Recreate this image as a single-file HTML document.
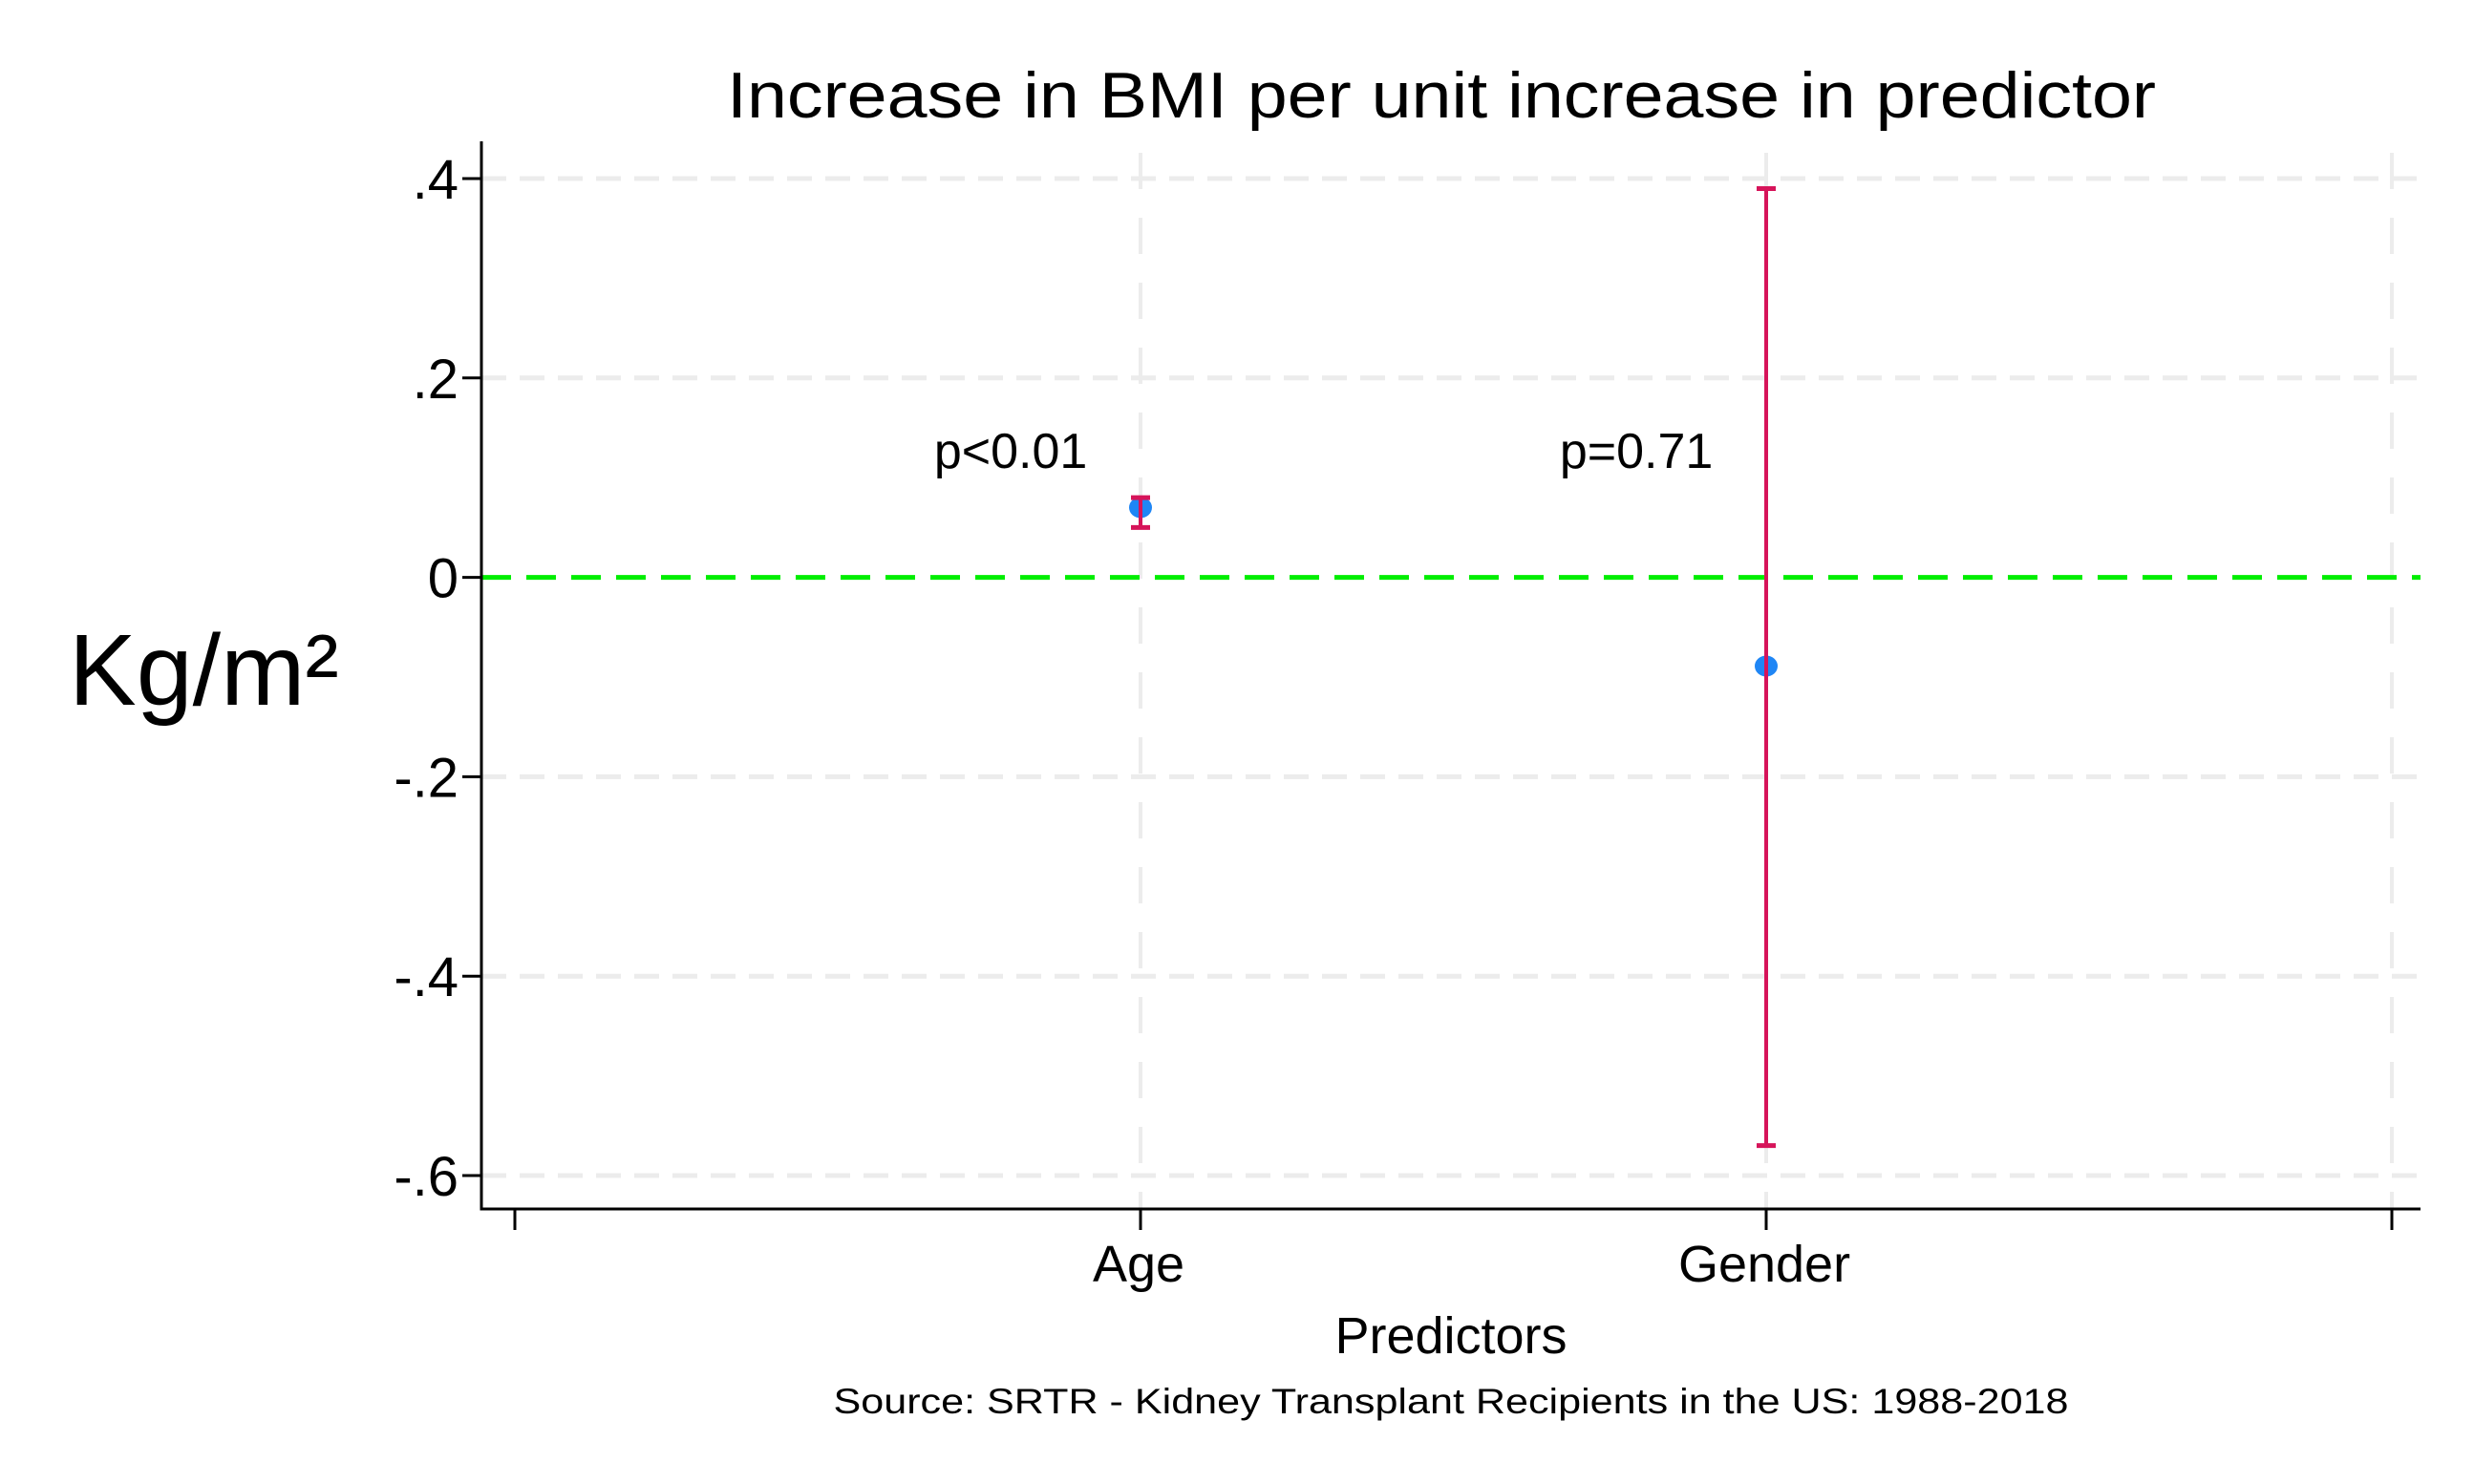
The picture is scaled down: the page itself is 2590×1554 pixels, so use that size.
<!DOCTYPE html>
<html><head><meta charset="utf-8"><style>body{margin:0;background:#fff}svg{display:block}text{font-family:"Liberation Sans",sans-serif;fill:#000}</style></head>
<body>
<svg id="chart" width="2590" height="1554" viewBox="0 0 2590 1554" xmlns="http://www.w3.org/2000/svg">
<rect width="2590" height="1554" fill="#fff"/>
<text x="1509" y="123" font-size="68" text-anchor="middle" textLength="1496" lengthAdjust="spacingAndGlyphs">Increase in BMI per unit increase in predictor</text>
<text x="72" y="738" font-size="106">Kg/m²</text>
<text x="1519" y="1417" font-size="54" text-anchor="middle">Predictors</text>
<text x="1519" y="1480" font-size="37" text-anchor="middle" textLength="1293" lengthAdjust="spacingAndGlyphs">Source: SRTR - Kidney Transplant Recipients in the US: 1988-2018</text>
<g id="plot"></g>
</svg>
<script>
const categories = ["Age", "Gender"];
const estimates = [0.070, -0.089];
const ciLower = [0.050, -0.570];
const ciUpper = [0.080, 0.390];
const pLabels = ["p<0.01", "p=0.71"];
const yTicks = [0.4, 0.2, 0, -0.2, -0.4, -0.6];
const yTickLabels = [".4", ".2", "0", "-.2", "-.4", "-.6"];
const xTicks = [0, 1, 2, 3];

const NS = "http://www.w3.org/2000/svg";
const g = document.getElementById('plot');
const X0 = 504, X1 = 2534, Yb = 1266, Yt = 148;
function xs(v){ return 539 + v * 655; }
function ys(v){ return 604.6 - v / 0.2 * 208.8; }
function mk(tag, attrs, parent){ const e = document.createElementNS(NS, tag); for (const k in attrs) e.setAttribute(k, attrs[k]); (parent||g).appendChild(e); return e; }

yTicks.forEach((t, i) => {
  if (t !== 0) {
    const l = mk('line', {x1: X0, x2: X1, y1: ys(t), y2: ys(t), stroke: '#ececec', 'stroke-width': 5, 'stroke-dasharray': '26 14'});
    
    
  }
  const tk = mk('line', {x1: X0 - 20, x2: X0, y1: ys(t), y2: ys(t), stroke: '#000', 'stroke-width': 3});
  
  
  const tx = mk('text', {x: X0 - 24, y: ys(t) + 21, 'font-size': 58, 'text-anchor': 'end'});
  tx.textContent = yTickLabels[i];
  
  
});
xTicks.forEach(t => {
  if (t > 0) {
    const l = mk('line', {x1: xs(t), x2: xs(t), y1: Yt + 12, y2: Yb, stroke: '#ececec', 'stroke-width': 4, 'stroke-dasharray': '38 30'});
    
    
  }
  const tk = mk('line', {x1: xs(t), x2: xs(t), y1: Yb, y2: Yb + 22, stroke: '#000', 'stroke-width': 3});
  
  
});
const z = mk('line', {x1: X0, x2: X1, y1: ys(0), y2: ys(0), stroke: '#00ee00', 'stroke-width': 5, 'stroke-dasharray': '31 16'});


const ya = mk('line', {x1: X0, x2: X0, y1: Yt, y2: Yb + 1.5, stroke: '#000', 'stroke-width': 3});


const xa = mk('line', {x1: X0, x2: X1, y1: Yb, y2: Yb, stroke: '#000', 'stroke-width': 3});



categories.forEach((c, i) => {
  const x = xs(i + 1);
  const lab = mk('text', {x: x - 2, y: 1342, 'font-size': 54, 'text-anchor': 'middle'});
  lab.textContent = c;
  
  
  const dot = mk('ellipse', {cx: x, cy: ys(estimates[i]), rx: 12, ry: 11, fill: '#1f86f5'});
  
  
  const eb = mk('g', {stroke: '#d6145a', 'stroke-width': 4, fill: 'none'});
  
  
  mk('line', {x1: x, x2: x, y1: ys(ciUpper[i]), y2: ys(ciLower[i])}, eb);
  mk('line', {x1: x - 10, x2: x + 10, y1: ys(ciUpper[i]), y2: ys(ciUpper[i]), 'stroke-width': 5}, eb);
  mk('line', {x1: x - 10, x2: x + 10, y1: ys(ciLower[i]), y2: ys(ciLower[i]), 'stroke-width': 5}, eb);
  const p = mk('text', {x: xs(i + 0.67), y: 490, 'font-size': 52});
  p.textContent = pLabels[i];
  
  
});
</script>
</body></html>
